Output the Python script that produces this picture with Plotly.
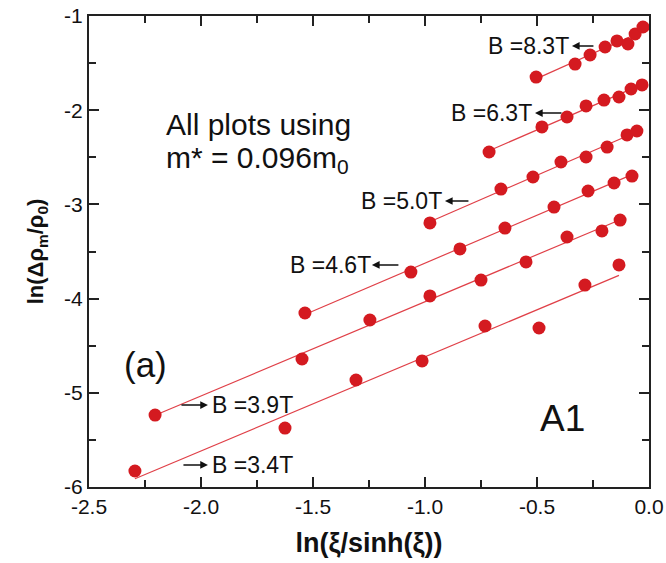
import numpy as np
import plotly.graph_objects as go

# ---- data ----
labels = ["B =8.3T", "B =6.3T", "B =5.0T", "B =4.6T", "B =3.9T", "B =3.4T"]

x_83 = [-0.504, -0.330, -0.263, -0.196, -0.143, -0.094, -0.062, -0.027]
y_83 = [-1.648, -1.510, -1.414, -1.329, -1.265, -1.297, -1.191, -1.117]

x_63 = [-0.714, -0.478, -0.366, -0.281, -0.201, -0.134, -0.080, -0.031]
y_63 = [-2.444, -2.178, -2.072, -1.955, -1.892, -1.860, -1.775, -1.732]

x_50 = [-0.978, -0.661, -0.518, -0.393, -0.281, -0.187, -0.098, -0.054]
y_50 = [-3.197, -2.837, -2.709, -2.550, -2.497, -2.391, -2.263, -2.221]

x_46 = [-1.536, -1.063, -0.844, -0.643, -0.424, -0.272, -0.156, -0.076]
y_46 = [-4.153, -3.718, -3.473, -3.251, -3.028, -2.858, -2.773, -2.699]

x_39 = [-2.205, -1.549, -1.246, -0.978, -0.750, -0.549, -0.366, -0.210, -0.129]
y_39 = [-5.236, -4.641, -4.227, -3.972, -3.803, -3.611, -3.346, -3.282, -3.166]

x_34 = [-2.295, -1.625, -1.308, -1.013, -0.732, -0.491, -0.286, -0.134]
y_34 = [-5.830, -5.374, -4.864, -4.662, -4.291, -4.312, -3.856, -3.643]

series = [(x_83, y_83), (x_63, y_63), (x_50, y_50), (x_46, y_46), (x_39, y_39), (x_34, y_34)]

x_ticks = [-2.5, -2.0, -1.5, -1.0, -0.5, 0.0]
x_ticktext = ["-2.5", "-2.0", "-1.5", "-1.0", "-0.5", "0.0"]
y_ticks = [-6, -5, -4, -3, -2, -1]
y_ticktext = ["-6", "-5", "-4", "-3", "-2", "-1"]

RED = "#d41a20"
LINE = "#e04048"
FONT = "Liberation Sans, Arial"

fig = go.Figure()
for (xs, ys), lab in zip(series, labels):
    xs = np.array(xs); ys = np.array(ys)
    k, b = np.polyfit(xs, ys, 1)
    xl = np.array([xs.min(), xs.max()])
    fig.add_trace(go.Scatter(x=xl, y=k * xl + b, mode="lines",
                             line=dict(color=LINE, width=1.2), showlegend=False,
                             hoverinfo="skip"))
    fig.add_trace(go.Scatter(x=xs, y=ys, mode="markers", name=lab,
                             marker=dict(color=RED, size=13, line=dict(width=0)),
                             showlegend=False))

TXT = "#111111"
ann_font = dict(family=FONT, size=23, color=TXT)

# label positions: (text center x, y, arrow tip x, arrow tail pixel offset)
label_pos = [
    (-0.536, -1.318, -0.344, 23),
    (-0.701, -2.030, -0.509, 28),
    (-1.103, -2.964, -0.911, 25),
    (-1.424, -3.643, -1.237, 28),
    (-1.772, -5.130, -1.969, -28),
    (-1.772, -5.766, -1.969, -26),
]
for lab, (tx, ty, ax_tip, off) in zip(labels, label_pos):
    fig.add_annotation(x=tx, y=ty, text=lab, showarrow=False, font=ann_font,
                       xanchor="center", yanchor="middle")
    fig.add_annotation(x=ax_tip, y=ty, ax=off, ay=0, text="", showarrow=True,
                       arrowhead=2, arrowsize=1.1, arrowwidth=1.4, arrowcolor="#111111")

big = dict(family=FONT, size=30, color=TXT)
fig.add_annotation(x=-2.165, y=-2.15, text="All plots using", showarrow=False,
                   font=big, xanchor="left", yanchor="middle")
fig.add_annotation(x=-2.165, y=-2.52, text="m* = 0.096m<sub>0</sub>", showarrow=False,
                   font=big, xanchor="left", yanchor="middle")
fig.add_annotation(x=-2.25, y=-4.70, text="(a)", showarrow=False,
                   font=dict(family=FONT, size=35, color=TXT),
                   xanchor="center", yanchor="middle")
fig.add_annotation(x=-0.384, y=-5.27, text="A1", showarrow=False,
                   font=dict(family=FONT, size=37, color=TXT),
                   xanchor="center", yanchor="middle")

axis_common = dict(showgrid=False, zeroline=False, showline=True, linecolor="#222222",
                   linewidth=2, mirror="ticks", ticks="inside", ticklen=10,
                   tickwidth=1.8, tickcolor="#222222", automargin=False,
                   tickfont=dict(family=FONT, size=21, color=TXT))

fig.update_xaxes(range=[-2.5, 0.0], tickvals=x_ticks, ticktext=x_ticktext,
                 minor=dict(dtick=0.25, ticks="inside", ticklen=7, tickwidth=1.8,
                            tickcolor="#222222"),
                 title=dict(text="<b>ln(ξ/sinh(ξ))</b>", standoff=16,
                            font=dict(family=FONT, size=27, color=TXT)),
                 **axis_common)
fig.update_yaxes(range=[-6, -1], tickvals=y_ticks, ticktext=y_ticktext,
                 minor=dict(dtick=0.5, ticks="inside", ticklen=7, tickwidth=1.8,
                            tickcolor="#222222"),
                 title=dict(text="<b>ln(Δρ<sub>m</sub>/ρ<sub>0</sub>)</b>", standoff=14,
                            font=dict(family=FONT, size=22, color=TXT)),
                 **axis_common)

fig.update_layout(width=666, height=563, paper_bgcolor="white", plot_bgcolor="white",
                  margin=dict(l=89, r=17, t=16, b=76))

fig.write_html("out.html")
